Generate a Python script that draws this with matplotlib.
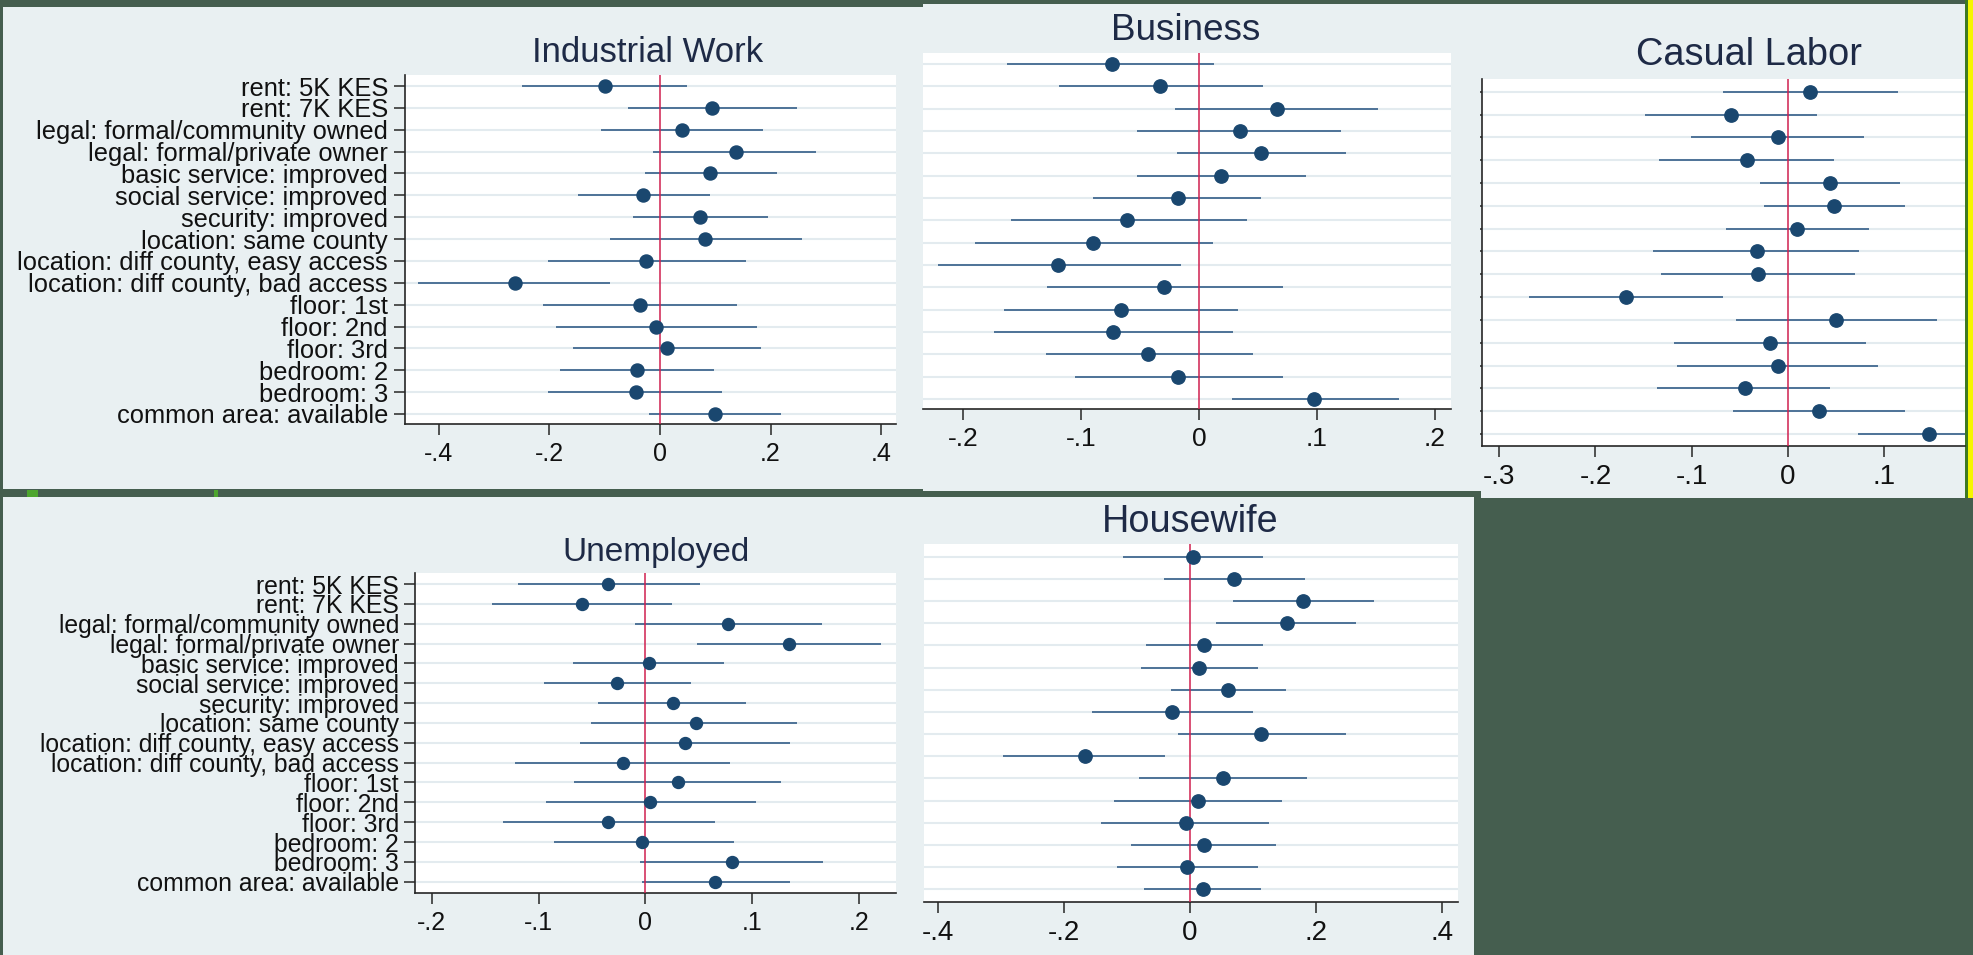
import matplotlib
matplotlib.use("Agg")
import matplotlib.pyplot as plt
from matplotlib.patches import Rectangle
import numpy as np

# ---------------------------------------------------------------- data
attributes = [
    "rent: 5K KES",
    "rent: 7K KES",
    "legal: formal/community owned",
    "legal: formal/private owner",
    "basic service: improved",
    "social service: improved",
    "security: improved",
    "location: same county",
    "location: diff county, easy access",
    "location: diff county, bad access",
    "floor: 1st",
    "floor: 2nd",
    "floor: 3rd",
    "bedroom: 2",
    "bedroom: 3",
    "common area: available",
]

industrial_coef = [-0.100, 0.094, 0.039, 0.137, 0.091, -0.031, 0.072, 0.081,
                   -0.025, -0.262, -0.036, -0.008, 0.012, -0.041, -0.044, 0.099]
industrial_lo = [-0.250, -0.057, -0.107, -0.012, -0.028, -0.149, -0.049, -0.091,
                 -0.202, -0.437, -0.211, -0.188, -0.158, -0.181, -0.202, -0.019]
industrial_hi = [0.049, 0.248, 0.186, 0.283, 0.212, 0.091, 0.195, 0.256,
                 0.156, -0.090, 0.139, 0.175, 0.183, 0.097, 0.113, 0.219]

business_coef = [-0.074, -0.033, 0.066, 0.035, 0.053, 0.019, -0.018, -0.061,
                 -0.090, -0.120, -0.030, -0.066, -0.073, -0.043, -0.018, 0.098]
business_lo = [-0.163, -0.119, -0.020, -0.053, -0.019, -0.053, -0.090, -0.160,
               -0.190, -0.222, -0.129, -0.166, -0.174, -0.130, -0.105, 0.028]
business_hi = [0.013, 0.054, 0.152, 0.121, 0.125, 0.091, 0.053, 0.041,
               0.012, -0.015, 0.071, 0.033, 0.029, 0.046, 0.071, 0.170]

casual_coef = [0.023, -0.059, -0.010, -0.043, 0.044, 0.048, 0.009, -0.032,
               -0.031, -0.168, 0.050, -0.019, -0.010, -0.045, 0.032, 0.146]
casual_lo = [-0.068, -0.148, -0.101, -0.134, -0.029, -0.025, -0.064, -0.140,
             -0.132, -0.269, -0.054, -0.118, -0.115, -0.136, -0.057, 0.073]
casual_hi = [0.114, 0.030, 0.079, 0.048, 0.116, 0.121, 0.084, 0.074,
             0.070, -0.067, 0.155, 0.081, 0.093, 0.044, 0.121, 0.219]

unemployed_coef = [-0.035, -0.059, 0.077, 0.134, 0.003, -0.027, 0.026, 0.047,
                   0.037, -0.021, 0.030, 0.004, -0.035, -0.003, 0.081, 0.065]
unemployed_lo = [-0.119, -0.144, -0.010, 0.048, -0.068, -0.095, -0.044, -0.051,
                 -0.061, -0.122, -0.067, -0.093, -0.133, -0.086, -0.005, -0.003]
unemployed_hi = [0.051, 0.025, 0.165, 0.220, 0.073, 0.043, 0.094, 0.142,
                 0.135, 0.079, 0.127, 0.103, 0.065, 0.083, 0.166, 0.135]

housewife_coef = [0.004, 0.070, 0.180, 0.154, 0.022, 0.015, 0.060, -0.028,
                  0.113, -0.167, 0.052, 0.012, -0.007, 0.022, -0.004, 0.021]
housewife_lo = [-0.106, -0.041, 0.069, 0.042, -0.070, -0.078, -0.030, -0.156,
                -0.019, -0.297, -0.081, -0.121, -0.141, -0.094, -0.116, -0.073]
housewife_hi = [0.116, 0.182, 0.292, 0.263, 0.116, 0.108, 0.153, 0.100,
                0.247, -0.039, 0.185, 0.146, 0.126, 0.137, 0.108, 0.113]

ticks_04 = [-0.4, -0.2, 0.0, 0.2, 0.4]
labels_04 = ["-.4", "-.2", "0", ".2", ".4"]
ticks_02 = [-0.2, -0.1, 0.0, 0.1, 0.2]
labels_02 = ["-.2", "-.1", "0", ".1", ".2"]
ticks_casual = [-0.3, -0.2, -0.1, 0.0, 0.1]
labels_casual = ["-.3", "-.2", "-.1", "0", ".1"]

# ---------------------------------------------------------------- style
W, H, DPI = 1973, 955, 100
BG_DARK = "#455E4F"
PANEL = "#E9F0F2"
GRID = "#E3EBEF"
NAVY = "#1A476F"
CI_COL = "#2D5884"
ZERO_COL = "#D0204F"
AXIS_COL = "#262626"
TITLE_COL = "#1E2A46"
FONT = ["Liberation Sans", "DejaVu Sans"]

plt.rcParams["font.family"] = FONT


def fig_box(x0, y0, x1, y1):
    return [x0 / W, 1 - y1 / H, (x1 - x0) / W, (y1 - y0) / H]


fig = plt.figure(figsize=(W / DPI, H / DPI), dpi=DPI, facecolor=BG_DARK)


def add_rect(x0, y0, x1, y1, color, z=-5):
    b = fig_box(x0, y0, x1, y1)
    fig.add_artist(Rectangle((b[0], b[1]), b[2], b[3], transform=fig.transFigure,
                             facecolor=color, edgecolor="none", zorder=z))


# panel backgrounds
add_rect(3, 7, 923, 489, PANEL)        # Industrial Work
add_rect(923, 4, 1481, 491, PANEL)     # Business
add_rect(1481, 4, 1965, 498, PANEL)    # Casual Labor
add_rect(3, 497, 923, 955, PANEL)      # Unemployed
add_rect(923, 497, 1474, 955, PANEL)   # Housewife
# right-hand frame strips and small leaf fragments in the gaps
add_rect(1965, 0, 1967.5, 498, "#3E7A22")
add_rect(1967.5, 0, 1973, 498, "#F6F600")
add_rect(27, 489.5, 38, 496.5, "#4DA52E")
add_rect(214, 489.5, 218, 496.5, "#4DA52E")


def panel(title, coef, lo, hi, ticks, tick_labels, lay):
    left, top, right, bottom = lay["box"]
    ax = fig.add_axes(fig_box(left, top, right, bottom))
    ax.set_facecolor("white")
    zero, ppu = lay["zero_px"], lay["ppu"]
    ax.set_xlim((left - zero) / ppu, (right - zero) / ppu)
    first, last = lay["rows_px"]
    n = len(coef)
    sp = (last - first) / (n - 1)
    ax.set_ylim((n - 1) + (bottom - last) / sp, -(first - top) / sp)
    rows = np.arange(n)

    for r in rows:
        ax.axhline(r, color=GRID, lw=1.5, zorder=1)
    ax.hlines(rows, lo, hi, color=CI_COL, lw=1.15, zorder=3)
    ax.axvline(0, color=ZERO_COL, lw=1.1, zorder=4)
    ax.plot(coef, rows, "o", ms=lay["ms"], color=NAVY, mec=NAVY, zorder=5)

    for s in ("top", "right"):
        ax.spines[s].set_visible(False)
    ax.spines["bottom"].set_color(AXIS_COL)
    ax.spines["bottom"].set_linewidth(1.2)
    ax.spines["left"].set_color(AXIS_COL)
    ax.spines["left"].set_linewidth(1.2)
    ax.spines["left"].set_visible(lay["yaxis"] != "none")

    ax.set_xticks(ticks)
    ax.set_xticklabels(tick_labels)
    ax.tick_params(axis="x", length=8, width=1.1, color=AXIS_COL,
                   labelsize=lay["xfs"], pad=lay["xpad"], labelcolor="#111111")
    if lay["yaxis"] == "labels":
        ax.set_yticks(rows)
        ax.set_yticklabels(attributes)
        ax.tick_params(axis="y", length=8, width=1.1, color=AXIS_COL,
                       labelsize=lay["yfs"], pad=lay["ypad"], labelcolor="#111111")
    elif lay["yaxis"] == "ticks":
        ax.set_yticks(rows)
        ax.set_yticklabels([])
        ax.tick_params(axis="y", length=1.5, width=1.1, color=AXIS_COL)
    else:
        ax.set_yticks([])

    tx, ty = lay["title_px"]
    fig.text(tx / W, 1 - ty / H, title, ha="center", va="baseline",
             fontsize=lay["tfs"], color=TITLE_COL)
    return ax


panel("Industrial Work", industrial_coef, industrial_lo, industrial_hi,
      ticks_04, labels_04,
      dict(box=(405, 75, 896, 424), zero_px=660, ppu=553, rows_px=(86, 414),
           ms=9.4, yaxis="labels", xfs=18, xpad=5, yfs=18.4, ypad=4.3,
           title_px=(648, 62), tfs=25))

panel("Business", business_coef, business_lo, business_hi,
      ticks_02, labels_02,
      dict(box=(923, 53, 1451, 409), zero_px=1199, ppu=1177.5, rows_px=(64, 399),
           ms=9.6, yaxis="none", xfs=19, xpad=5, title_px=(1186, 40), tfs=26.6))

panel("Casual Labor", casual_coef, casual_lo, casual_hi,
      ticks_casual, labels_casual,
      dict(box=(1482, 79, 1965, 446), zero_px=1788, ppu=963, rows_px=(91.7, 434),
           ms=9.6, yaxis="ticks", xfs=20, xpad=5, title_px=(1749, 65), tfs=27.4))

panel("Unemployed", unemployed_coef, unemployed_lo, unemployed_hi,
      ticks_02, labels_02,
      dict(box=(415, 573, 896, 893), zero_px=645.5, ppu=1069, rows_px=(584, 881.7),
           ms=8.6, yaxis="labels", xfs=18, xpad=5, yfs=17.8, ypad=3.6,
           title_px=(656, 560.7), tfs=24))

panel("Housewife", housewife_coef, housewife_lo, housewife_hi,
      ticks_04, labels_04,
      dict(box=(924, 544, 1458, 902), zero_px=1190, ppu=630, rows_px=(556.7, 889.3),
           ms=9.6, yaxis="none", xfs=20, xpad=5, title_px=(1190, 531.7), tfs=27.2))

fig.savefig("out.png", dpi=DPI, facecolor=BG_DARK)
